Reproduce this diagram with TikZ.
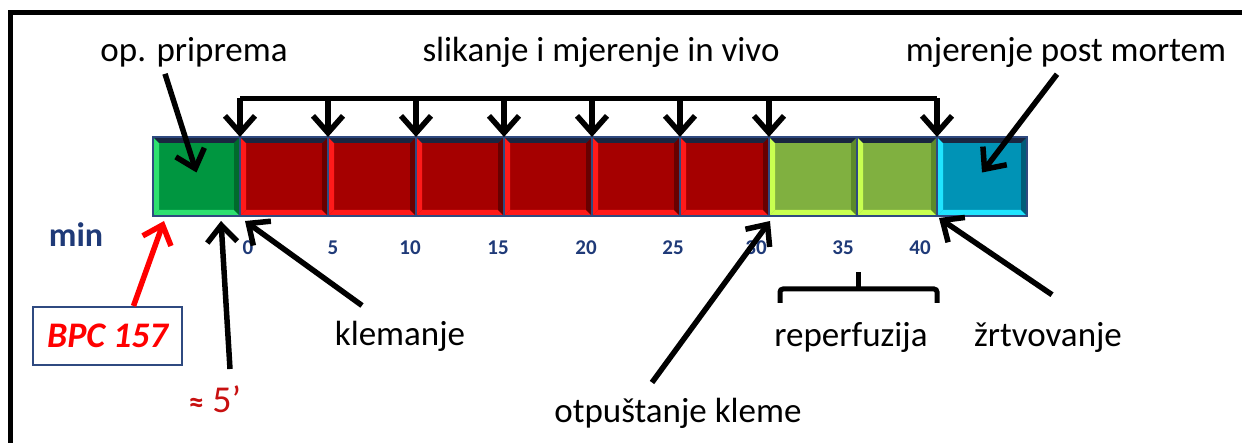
\documentclass[tikz,border=0pt]{standalone}
\usepackage{fontspec}
\setmainfont{Carlito}
\usepackage{xcolor}
\usepackage{tikz}
\usetikzlibrary{arrows.meta,positioning}

\definecolor{zel}{HTML}{009640}
\definecolor{zelsv}{HTML}{2EE070}
\definecolor{zeltm}{HTML}{006A2C}
\definecolor{crv}{HTML}{A50000}
\definecolor{crvsv}{HTML}{FF1A1A}
\definecolor{crvtm}{HTML}{680000}
\definecolor{svz}{HTML}{80B040}
\definecolor{svzsv}{HTML}{C8FF50}
\definecolor{svztm}{HTML}{5C8A2A}
\definecolor{pl}{HTML}{0093B6}
\definecolor{plsv}{HTML}{20E4FF}
\definecolor{pltm}{HTML}{005C78}
\definecolor{vrh}{HTML}{1A2640}
\definecolor{okvir}{HTML}{2F4A80}
\definecolor{tamnopl}{HTML}{1F3A78}
\definecolor{tamnocrv}{HTML}{C81010}

\tikzset{
  blok/.style n args={3}{draw=okvir, line width=1.2pt, fill=#1, minimum height=79pt,
    inner sep=0pt, outer sep=0pt,
    path picture={
      \fill[#2] (path picture bounding box.south west) -- (path picture bounding box.north west)
        -- ([shift={(6pt,-6pt)}]path picture bounding box.north west)
        -- ([shift={(6pt,6pt)}]path picture bounding box.south west) -- cycle;
      \fill[#2] (path picture bounding box.south west) -- ([shift={(6pt,6pt)}]path picture bounding box.south west)
        -- ([shift={(-6pt,6pt)}]path picture bounding box.south east)
        -- (path picture bounding box.south east) -- cycle;
      \fill[#3] (path picture bounding box.south east) -- (path picture bounding box.north east)
        -- ([shift={(-6pt,-6pt)}]path picture bounding box.north east)
        -- ([shift={(-6pt,6pt)}]path picture bounding box.south east) -- cycle;
      \fill[vrh] (path picture bounding box.north west) -- (path picture bounding box.north east)
        -- ([shift={(-6pt,-6pt)}]path picture bounding box.north east)
        -- ([shift={(6pt,-6pt)}]path picture bounding box.north west) -- cycle;
    }},
  natpis/.style={inner sep=0pt, font=\fontsize{35}{42}\selectfont},
  broj/.style={inner sep=0pt, text=tamnopl, font=\fontsize{21}{25}\selectfont\bfseries},
  pil/.style={line width=5.5pt, -{Straight Barb[length=17pt,width=30pt]}},
  zagrada/.style={line width=5pt, rounded corners=3pt}
}

\begin{document}
\begin{tikzpicture}[x=1pt,y=-1pt]
\useasboundingbox (0,0) rectangle (1242,443);
\clip (0,0) rectangle (1242,443);
\draw[line width=5pt] (10.5,470) -- (10.5,12.5) -- (1270,12.5);

% vremenska traka
\node[blok={zel}{zelsv}{zeltm}, minimum width=87pt, anchor=north west] (b0) at (153,137) {};
\node[blok={crv}{crvsv}{crvtm}, minimum width=88pt, right=0pt of b0] (b1) {};
\node[blok={crv}{crvsv}{crvtm}, minimum width=88pt, right=0pt of b1] (b2) {};
\node[blok={crv}{crvsv}{crvtm}, minimum width=88pt, right=0pt of b2] (b3) {};
\node[blok={crv}{crvsv}{crvtm}, minimum width=88pt, right=0pt of b3] (b4) {};
\node[blok={crv}{crvsv}{crvtm}, minimum width=88pt, right=0pt of b4] (b5) {};
\node[blok={crv}{crvsv}{crvtm}, minimum width=89pt, right=0pt of b5] (b6) {};
\node[blok={svz}{svzsv}{svztm}, minimum width=88pt, right=0pt of b6] (b7) {};
\node[blok={svz}{svzsv}{svztm}, minimum width=80pt, right=0pt of b7] (b8) {};
\node[blok={pl}{plsv}{pltm}, minimum width=90pt, right=0pt of b8] (b9) {};

% minute
\node[broj, font=\fontsize{34}{40}\selectfont\bfseries, anchor=base] (min) at (76,247) {min};
\node[broj, anchor=base] (t0) at (248,255) {0};
\node[broj, anchor=base] (t5) at (333,255) {5};
\node[broj, anchor=base] (t10) at (410,255) {10};
\node[broj, anchor=base] (t15) at (498,255) {15};
\node[broj, anchor=base] (t20) at (586,255) {20};
\node[broj, anchor=base] (t25) at (673,255) {25};
\node[broj, anchor=base] (t30) at (756,255) {30};
\node[broj, anchor=base] (t35) at (843,255) {35};
\node[broj, anchor=base] (t40) at (920,255) {40};

% natpisi
\node[natpis, anchor=base] (op) at (194,62) {op. priprema};
\node[natpis, anchor=base] (slik) at (601,62) {slikanje i mjerenje in vivo};
\node[natpis, anchor=base] (pm) at (1066,62) {mjerenje post mortem};
\node[natpis, anchor=base] (klem) at (400,346) {klemanje};
\node[natpis, anchor=base] (otp) at (678,422) {otpuštanje kleme};
\node[natpis, anchor=base] (rep) at (851,347) {reperfuzija};
\node[natpis, anchor=base] (zrtv) at (1048,347) {žrtvovanje};
\node[draw=okvir, line width=2pt, minimum width=149pt, minimum height=58pt, text=red,
  font=\fontsize{36}{42}\selectfont\bfseries\itshape] (bpc) at (107.5,336) {BPC 157};
\node[natpis, text=tamnocrv, font=\fontsize{38}{44}\selectfont, anchor=base] (aprox) at (215,412) {{\bfseries\fontsize{30}{36}\selectfont ≈} 5’};

% slikanje
\draw[zagrada] ([yshift=38.5pt]b0.north east) -- ([yshift=38.5pt]b8.north east);
\draw[pil] ([yshift=38.5pt]b0.north east) -- (b0.north east);
\draw[pil] ([yshift=38.5pt]b1.north east) -- (b1.north east);
\draw[pil] ([yshift=38.5pt]b2.north east) -- (b2.north east);
\draw[pil] ([yshift=38.5pt]b3.north east) -- (b3.north east);
\draw[pil] ([yshift=38.5pt]b4.north east) -- (b4.north east);
\draw[pil] ([yshift=38.5pt]b5.north east) -- (b5.north east);
\draw[pil] ([yshift=38.5pt]b6.north east) -- (b6.north east);
\draw[pil] ([yshift=38.5pt]b8.north east) -- (b8.north east);

% strelice
\draw[pil] ([xshift=-29pt,yshift=-6pt]op.south) -- ([yshift=4pt]b0.center);
\draw[pil] ([xshift=-9pt,yshift=-6pt]pm.south) -- ([yshift=4pt]b9.center);
\draw[pil, red] ([xshift=26pt]bpc.north) -- ([xshift=11pt,yshift=-5pt]b0.south west);
\draw[pil] ([xshift=15pt,yshift=16pt]aprox.north) -- ([xshift=-19pt,yshift=-5pt]b0.south east);
\draw[pil] ([xshift=-38pt,yshift=16pt]klem.north) -- ([xshift=5pt,yshift=-5pt]b1.south west);
\draw[pil] ([xshift=-26pt,yshift=15pt]otp.north) -- ([xshift=1pt,yshift=-5pt]b6.south east);
\draw[pil] ([xshift=4pt,yshift=28pt]zrtv.north) -- ([xshift=2pt,yshift=-2pt]b8.south east);

% reperfuzija
\draw[zagrada] ([xshift=11pt,yshift=-87pt]b7.south west) |- ([yshift=-73pt]b8.south east) -- ++(0,14);
\draw[zagrada] ([xshift=1pt,yshift=-73pt]b8.south west) -- ++(0,-17);
\end{tikzpicture}
\end{document}
